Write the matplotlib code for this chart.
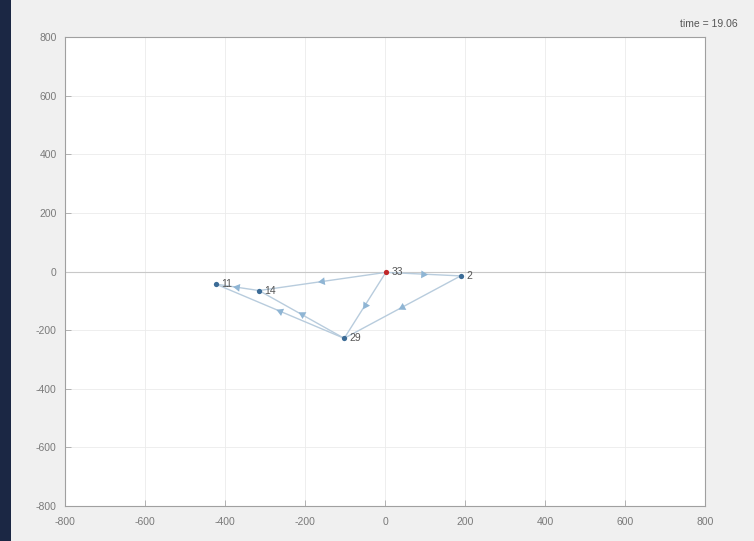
import numpy as np
import matplotlib
matplotlib.use("Agg")
import matplotlib.pyplot as plt
from matplotlib.patches import Rectangle

# Node positions of the graph
node_ids = ["33", "2", "11", "14", "29"]
node_x = [2, 189, -423, -315, -102]
node_y = [-3, -15, -43, -65, -228]
node_colors = ["#c0282a", "#3b6b96", "#3b6b96", "#3b6b96", "#3b6b96"]

# Directed edges (source -> target)
edge_src = ["33", "2", "33", "33", "14", "29", "29"]
edge_dst = ["2", "29", "29", "14", "11", "11", "14"]

tick_values = [-800, -600, -400, -200, 0, 200, 400, 600, 800]
time_label = "time = 19.06"

plt.rcParams["font.family"] = ["Liberation Sans", "DejaVu Sans"]

fig = plt.figure(figsize=(7.54, 5.41), dpi=100, facecolor="#f0f0f0")

# Dark strip along the left edge
strip = Rectangle((0, 0), 11 / 754, 1, transform=fig.transFigure,
                  facecolor="#1b2744", edgecolor="none", zorder=0)
fig.patches.append(strip)

ax = fig.add_axes([65 / 754, (541 - 506) / 541, 640 / 754, 469 / 541])
ax.set_facecolor("white")
ax.set_xlim(-800, 800)
ax.set_ylim(-800, 800)
ax.set_xticks(tick_values)
ax.set_yticks(tick_values)
ax.set_xticklabels([str(v) for v in tick_values])
ax.set_yticklabels([str(v) for v in tick_values])
ax.tick_params(direction="in", length=4, width=0.6, colors="#a8a8a8",
               labelcolor="#7a7a7a", labelsize=7.5, pad=6)
ax.tick_params(axis="x", pad=8)
for s in ax.spines.values():
    s.set_color("#a0a0a0")
    s.set_linewidth(0.8)

ax.grid(True, color="#ebebeb", linewidth=0.6)
ax.axhline(0, color="#c8c8c8", linewidth=0.8, zorder=1)
ax.set_axisbelow(True)

pos = {n: (x, y) for n, x, y in zip(node_ids, node_x, node_y)}

fig.canvas.draw()
to_disp = ax.transData

for s, d in zip(edge_src, edge_dst):
    (x0, y0), (x1, y1) = pos[s], pos[d]
    ax.plot([x0, x1], [y0, y1], color="#b8ccdd", linewidth=1.0, zorder=2)
    mx, my = (x0 + x1) / 2, (y0 + y1) / 2
    p0 = to_disp.transform((x0, y0))
    p1 = to_disp.transform((x1, y1))
    ang = np.degrees(np.arctan2(p1[1] - p0[1], p1[0] - p0[0]))
    ax.plot([mx], [my], marker=(3, 0, ang - 90), markersize=6.5,
            color="#8fb5d4", markeredgewidth=0, zorder=3)

for n, x, y, c in zip(node_ids, node_x, node_y, node_colors):
    ax.plot([x], [y], marker="o", markersize=3.8, color=c,
            markeredgewidth=0, zorder=4)
    ax.annotate(n, (x, y), xytext=(4, 0), textcoords="offset points",
                va="center", ha="left", fontsize=7.5, color="#555555", zorder=5)

fig.text(738 / 754, 1 - 24 / 541, time_label, ha="right", va="center",
         fontsize=7.5, color="#555555")

fig.savefig("out.png", dpi=100, facecolor=fig.get_facecolor())
